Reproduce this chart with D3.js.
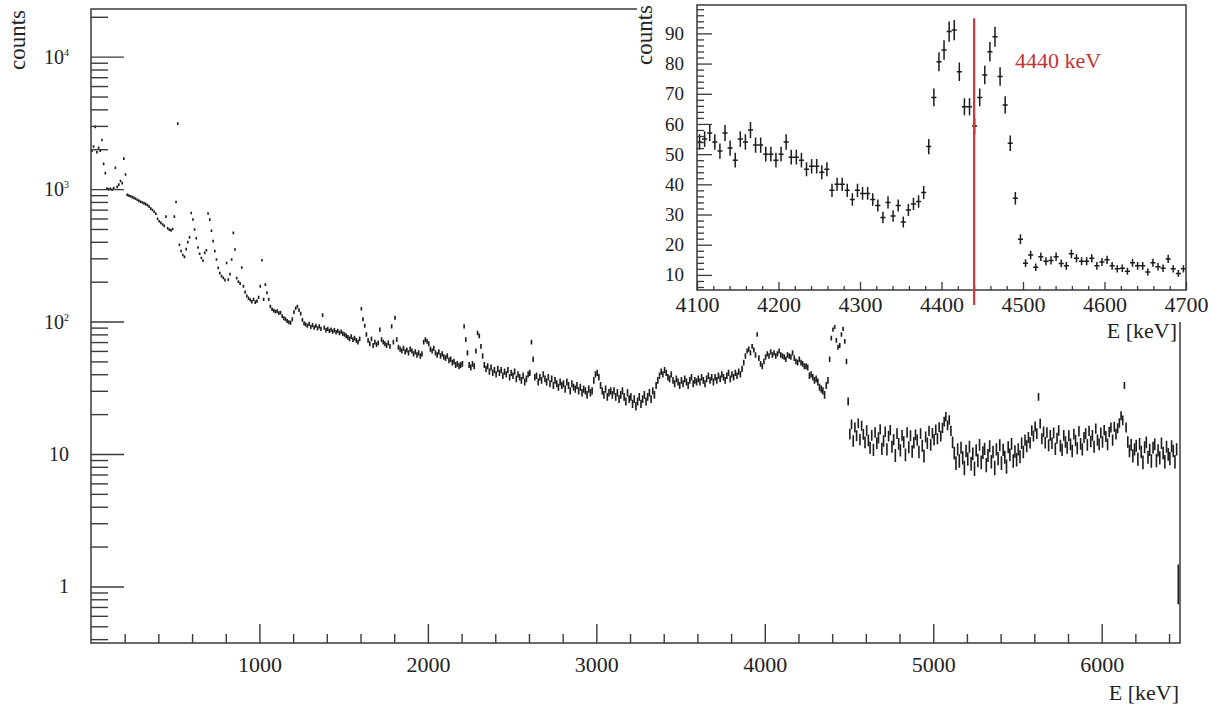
<!DOCTYPE html>
<html lang="en">
<head>
<meta charset="utf-8">
<title>Spectrum with 4440 keV inset</title>
<script src="https://cdn.jsdelivr.net/npm/d3@7"></script>
<style>
  body { margin: 0; background: #fff; }
  svg, svg text { font-family: "Liberation Serif", "DejaVu Serif", serif; }
</style>
</head>
<body>
<svg id="chart" width="1220" height="710"></svg>
<script>

// main spectrum: counts per 10 keV bin, starting at 0 keV (one row = 100 keV)
var binWidth = 10;
var counts = [
  1950, 2100, 2950, 1900, 2050, 1950, 2350, 1550, 1320, 1010,
  995, 1005, 990, 1020, 1450, 1040, 1080, 1150, 1110, 1700,
  1290, 905, 893, 882, 870, 858, 846, 830, 815, 802,
  792, 780, 770, 757, 738, 712, 695, 675, 652, 598,
  572, 556, 540, 528, 620, 506, 494, 488, 500, 620,
  800, 3120, 380, 340, 318, 308, 352, 398, 432, 660,
  590, 495, 425, 362, 325, 302, 288, 330, 345, 655,
  588, 485, 405, 340, 294, 255, 232, 220, 214, 206,
  277, 207, 228, 294, 467, 350, 213, 200, 194, 256,
  185, 167, 156, 150, 146, 141, 147, 140, 143, 152,
  185, 290, 147, 190, 165, 147, 130, 124, 121, 119,
  120, 116, 117, 110, 106, 104, 101, 99, 98, 104,
  118, 126, 130, 122, 115, 103, 97, 95, 93, 96,
  91, 94, 90, 93, 89, 92, 88, 112, 90, 86,
  88, 85, 87, 84, 86, 83, 85, 82, 84, 81,
  80, 78, 76, 74, 77, 73, 75, 72, 70, 74,
  125, 104, 93, 80, 72, 68, 74, 66, 70, 67,
  69, 87, 73, 70, 68, 66, 69, 65, 92, 70,
  107, 73, 64, 62, 60, 63, 59, 61, 58, 62,
  60, 57, 59, 56, 58, 55, 57, 70, 73, 71,
  68, 62, 60, 63, 58, 56, 59, 55, 57, 54,
  53, 55, 51, 52, 49, 50, 47, 48, 46, 47,
  48, 92, 73, 58, 47, 45, 48, 46, 60, 82,
  78, 65, 55, 47, 44, 46, 42, 45, 41, 43,
  40, 44, 41, 43, 39, 42, 40, 43, 38, 41,
  39, 42, 37, 40, 38, 36, 39, 35, 37, 40,
  41, 70, 52, 38, 39, 35, 38, 36, 40, 37,
  35, 38, 34, 37, 33, 36, 34, 32, 35, 33,
  34, 31, 35, 33, 30, 34, 32, 31, 33, 30,
  32, 29, 31, 30, 28, 31, 29, 30, 36, 40,
  41, 38, 33, 30, 28, 31, 27, 29, 30, 28,
  30, 27, 29, 26, 28, 30, 27, 25, 29, 26,
  27, 24, 26, 23, 25, 27, 24, 26, 28, 25,
  27, 29, 26, 30, 28, 33, 36, 39, 42, 40,
  43, 41, 38, 37, 40, 36, 34, 37, 35, 33,
  36, 34, 37, 35, 33, 36, 38, 34, 36, 35,
  37, 35, 38, 36, 34, 37, 39, 36, 38, 35,
  38, 36, 39, 37, 40, 38, 36, 39, 41, 37,
  40, 38, 41, 39, 42, 40, 44, 49, 55, 60,
  62, 58, 65, 61, 56, 80, 53, 48, 46, 50,
  54, 57, 55, 59, 56, 58, 55, 57, 60, 56,
  55, 54, 52, 56, 55, 54, 58, 53, 50, 49,
  52, 49, 48, 46, 46, 45, 39, 40, 38, 36,
  37, 35, 32, 31, 30, 28, 33, 36, 52, 75,
  87, 91, 72, 64, 66, 80, 88, 71, 50, 25,
  14.2, 16.8, 12.6, 15.9, 13.8, 17.1, 12.9, 16.4, 14.1, 12.3,
  15.1, 12.7, 11.2, 13.9, 10.8, 14.6, 12.1, 13.3, 15.4, 11.0,
  12.6, 14.8, 10.9, 13.7, 15.2, 11.4, 12.9, 9.8, 14.3, 12.0,
  10.7, 13.9, 12.4, 9.9, 14.6, 11.3, 13.8, 10.5, 12.2, 14.0,
  12.8, 10.4, 14.3, 11.6, 9.7, 13.5, 12.1, 15.0, 11.8, 14.4,
  12.9, 15.3, 13.1, 16.0, 13.7, 15.8, 17.6, 19.2, 16.5, 18.1,
  15.0, 12.3, 10.2, 8.6, 10.9, 8.9, 11.2, 9.4, 7.9, 10.6,
  9.2, 11.4, 8.5, 10.1, 7.8, 10.7, 9.0, 11.8, 8.7, 10.3,
  11.0, 8.3, 9.8, 11.5, 8.8, 10.4, 7.9, 10.9, 9.3, 11.7,
  8.6, 10.8, 9.5, 8.1, 11.3, 9.9, 12.0, 8.9, 10.5, 9.1,
  10.9, 9.6, 12.1, 10.4, 12.8, 11.5, 13.4, 12.2, 15.1, 13.7,
  16.2, 14.3, 27.0, 17.0, 13.1, 14.8, 12.2, 14.6, 11.7, 13.9,
  12.1, 14.5, 11.0, 13.2, 15.1, 11.6, 10.8, 13.9, 12.4, 11.2,
  13.8, 11.9, 10.6, 14.2, 12.7, 11.1, 14.9, 12.0, 10.9, 13.4,
  14.3, 11.8, 15.0, 12.5, 13.9, 11.4, 15.6, 12.8, 11.9, 14.5,
  12.4, 15.2, 13.6, 11.9, 14.7, 15.9, 12.8, 16.1, 14.2, 15.7,
  17.2, 19.5, 18.0, 33.0, 15.9, 12.4, 10.6, 11.8, 9.7, 10.9,
  11.6, 9.2, 12.0, 10.4, 8.7, 11.3, 12.3, 9.5, 10.8, 8.9,
  11.2, 11.9, 9.0, 10.7, 9.4, 12.1, 10.2, 8.8, 11.4, 10.0,
  9.3, 11.5, 10.6, 8.8, 10.9, 1.1
];

// inset: 6.25 keV bins from 4100 keV
var insetStart = 4100;
var insetBinWidth = 6.25;
var insetCounts = [
  54, 55, 57, 54, 51, 57, 52, 48, 55, 54,
  58, 53, 53, 50, 50, 48, 50, 54, 49, 49,
  48, 45, 46, 46, 44, 45, 38, 40, 40, 38,
  35, 38, 37, 37, 35, 33, 29, 34, 29.5, 33,
  27.5, 31.5, 33.5, 34.3, 37.3, 52.5, 68.8, 80.6, 84.5, 90.6,
  91.1, 77.3, 65.7, 65.7, 59.3, 68.8, 76.2, 83.9, 88.9, 75.7,
  66.3, 53.6, 35.4, 21.8, 13.9, 16.6, 12.5, 16, 14.5, 14.8,
  16, 13.8, 13, 17, 15.5, 14.5, 14.5, 15.5, 13, 14.3,
  15, 13, 12, 12.2, 11.2, 14, 13, 13, 11, 14,
  12.7, 12.2, 15.3, 12, 10.5, 12
];

var lineEnergy = 4440;
var lineCounts = [0, 95];
var errScale = 0.35;

var mainXTicks = [1000, 2000, 3000, 4000, 5000, 6000];
var mainYTicks = [1, 10, 100, 1000, 10000];
var mainYLabels = [["1", ""], ["10", ""], ["10", "2"], ["10", "3"], ["10", "4"]];
var insetXTicks = [4100, 4200, 4300, 4400, 4500, 4600, 4700];
var insetYTicks = [10, 20, 30, 40, 50, 60, 70, 80, 90];

var svg = d3.select("#chart");
var ink = "#1c1c1c";
var axisInk = "#3a3a3a";
var textInk = "#222";

// ---------- main plot ----------
var m = {left: 91, right: 1180, top: 9, bottom: 643};
var x = d3.scaleLinear().domain([0, 6465]).range([m.left, m.right]);
var y = d3.scaleLog().domain([0.374, 22900]).range([m.bottom, m.top]);

svg.append("clipPath").attr("id", "mainClip")
  .append("rect")
  .attr("x", m.left).attr("y", m.top)
  .attr("width", m.right - m.left).attr("height", m.bottom - m.top);

var mainBins = counts.map(function(c, i) {
  return {e: (i + 0.5) * binWidth, c: c};
});

function barPath(d, xs, ys, bw) {
  var err = errScale * Math.sqrt(d.c);
  var yc = ys(d.c);
  var yTop = Math.min(ys(d.c + err), yc - 1.3);
  var yBot = Math.max(ys(Math.max(d.c - err, 0.01)), yc + 1.3);
  var xc = xs(d.e);
  return "M" + xc + "," + yTop + "V" + yBot +
         "M" + xs(d.e - bw / 2) + "," + yc + "H" + xs(d.e + bw / 2);
}

svg.append("g")
  .attr("clip-path", "url(#mainClip)")
  .selectAll("path")
  .data(mainBins)
  .enter()
  .append("path")
  .attr("d", d => barPath(d, x, y, binWidth))
  .attr("fill", "none")
  .attr("stroke", ink)
  .attr("stroke-width", 1.6);

// small helper: strip d3's own font settings so the serif face applies
function plain(g) {
  g.attr("font-family", null).attr("font-size", null);
  g.select(".domain").remove();
}

// x ticks (inside, pointing up)
var xMinor = d3.range(200, 6465, 200).filter(v => v % 1000 !== 0);
svg.append("g")
  .attr("transform", "translate(0," + m.bottom + ")")
  .call(d3.axisBottom(x).tickValues(xMinor).tickSize(-9).tickSizeOuter(0).tickFormat(""))
  .call(plain)
  .selectAll("line").attr("stroke", axisInk).attr("stroke-width", 1.4);

var xMajor = svg.append("g")
  .attr("transform", "translate(0," + m.bottom + ")")
  .call(d3.axisBottom(x).tickValues(mainXTicks).tickSize(-19).tickSizeOuter(0).tickPadding(13).tickFormat(d3.format("d")))
  .call(plain);
xMajor.selectAll("line").attr("stroke", axisInk).attr("stroke-width", 1.4);
xMajor.selectAll("text").attr("font-size", 22).attr("fill", textInk);

// y ticks (log, inside)
var yMinor = [];
[-1, 0, 1, 2, 3, 4].forEach(function(p) {
  for (var k = 2; k <= 9; k++) {
    var v = k * Math.pow(10, p);
    if (v >= 0.374 && v <= 22900) yMinor.push(v);
  }
});
svg.append("g")
  .attr("transform", "translate(" + m.left + ",0)")
  .call(d3.axisLeft(y).tickValues(yMinor).tickSize(-17).tickSizeOuter(0).tickFormat(""))
  .call(plain)
  .selectAll("line").attr("stroke", axisInk).attr("stroke-width", 1.4);

svg.append("g")
  .attr("transform", "translate(" + m.left + ",0)")
  .call(d3.axisLeft(y).tickValues(mainYTicks).tickSize(-33).tickSizeOuter(0).tickFormat(""))
  .call(plain)
  .selectAll("line").attr("stroke", axisInk).attr("stroke-width", 1.4);

var yLab = svg.append("g").selectAll("text")
  .data(mainYTicks)
  .enter()
  .append("text")
  .attr("x", 69)
  .attr("y", d => y(d) + 7)
  .attr("text-anchor", "end")
  .attr("font-size", 20)
  .attr("fill", textInk);
yLab.each(function(d, i) {
  var t = d3.select(this);
  t.append("tspan").text(mainYLabels[i][0]);
  if (mainYLabels[i][1]) {
    t.append("tspan").attr("font-size", 10).attr("dy", -8).text(mainYLabels[i][1]);
  }
});

// main frame (the inset pad hides its upper right part)
svg.append("path")
  .attr("d", "M637," + m.top + "H" + m.left + "V" + m.bottom + "H" + m.right + "V322")
  .attr("fill", "none")
  .attr("stroke", axisInk)
  .attr("stroke-width", 1.5);

svg.append("text")
  .attr("transform", "translate(25,10) rotate(-90)")
  .attr("text-anchor", "end")
  .attr("font-size", 23)
  .attr("fill", textInk)
  .text("counts");

svg.append("text")
  .attr("x", 1179).attr("y", 700)
  .attr("text-anchor", "end")
  .attr("font-size", 22)
  .attr("fill", textInk)
  .text("E [keV]");

// ---------- inset ----------
var n = {left: 697, right: 1186, top: 5, bottom: 290};
var xi = d3.scaleLinear().domain([4100, 4700]).range([n.left, n.right]);
var yi = d3.scaleLinear().domain([5, 99.4]).range([n.bottom, n.top]);

svg.append("rect")
  .attr("x", 637).attr("y", 0)
  .attr("width", 1220 - 637).attr("height", 322)
  .attr("fill", "#fff");

var insetBins = insetCounts.map(function(c, i) {
  return {e: insetStart + (i + 0.5) * insetBinWidth, c: c};
});

svg.append("g")
  .selectAll("path")
  .data(insetBins)
  .enter()
  .append("path")
  .attr("d", d => barPath(d, xi, yi, insetBinWidth))
  .attr("fill", "none")
  .attr("stroke", ink)
  .attr("stroke-width", 1.5);

var xiMinor = d3.range(4120, 4700, 20).filter(v => v % 100 !== 0);
svg.append("g")
  .attr("transform", "translate(0," + n.bottom + ")")
  .call(d3.axisBottom(xi).tickValues(xiMinor).tickSize(-4).tickSizeOuter(0).tickFormat(""))
  .call(plain)
  .selectAll("line").attr("stroke", axisInk).attr("stroke-width", 1.3);

var xiMajor = svg.append("g")
  .attr("transform", "translate(0," + n.bottom + ")")
  .call(d3.axisBottom(xi).tickValues(insetXTicks).tickSize(-8).tickSizeOuter(0).tickPadding(6).tickFormat(d3.format("d")))
  .call(plain);
xiMajor.selectAll("line").attr("stroke", axisInk).attr("stroke-width", 1.3);
xiMajor.selectAll("text").attr("font-size", 22).attr("fill", textInk);

var yiMinor = d3.range(6, 99, 2).filter(v => v % 10 !== 0);
svg.append("g")
  .attr("transform", "translate(" + n.left + ",0)")
  .call(d3.axisLeft(yi).tickValues(yiMinor).tickSize(-7).tickSizeOuter(0).tickFormat(""))
  .call(plain)
  .selectAll("line").attr("stroke", axisInk).attr("stroke-width", 1.3);

var yiMajor = svg.append("g")
  .attr("transform", "translate(" + n.left + ",0)")
  .call(d3.axisLeft(yi).tickValues(insetYTicks).tickSize(-15).tickSizeOuter(0).tickPadding(13).tickFormat(d3.format("d")))
  .call(plain);
yiMajor.selectAll("line").attr("stroke", axisInk).attr("stroke-width", 1.3);
yiMajor.selectAll("text").attr("font-size", 19).attr("fill", textInk);

svg.append("rect")
  .attr("x", n.left).attr("y", n.top)
  .attr("width", n.right - n.left).attr("height", n.bottom - n.top)
  .attr("fill", "none")
  .attr("stroke", axisInk)
  .attr("stroke-width", 1.5);

svg.append("line")
  .attr("x1", xi(lineEnergy)).attr("x2", xi(lineEnergy))
  .attr("y1", yi(lineCounts[0])).attr("y2", yi(lineCounts[1]))
  .attr("stroke", "#d9383a")
  .attr("stroke-width", 2.2);

svg.append("text")
  .attr("x", 1015).attr("y", 68)
  .attr("font-size", 22)
  .attr("fill", "#c23434")
  .text("4440 keV");

svg.append("text")
  .attr("transform", "translate(652,5) rotate(-90)")
  .attr("text-anchor", "end")
  .attr("font-size", 23)
  .attr("fill", textInk)
  .text("counts");

svg.append("text")
  .attr("x", 1177).attr("y", 338)
  .attr("text-anchor", "end")
  .attr("font-size", 22)
  .attr("fill", textInk)
  .text("E [keV]");

</script>
</body>
</html>
